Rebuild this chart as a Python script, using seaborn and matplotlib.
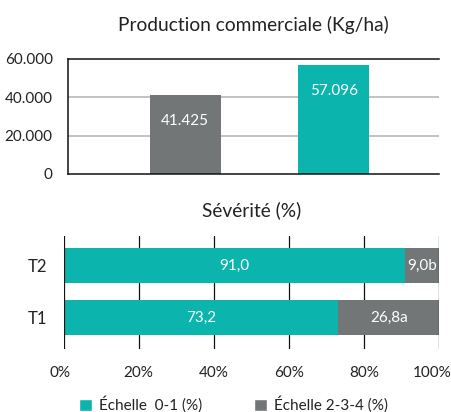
import matplotlib
matplotlib.use("Agg")
import matplotlib.pyplot as plt
import matplotlib.transforms as mtransforms
import seaborn as sns
import pandas as pd
from matplotlib.patches import Patch

# data
prod_labels = ["T1", "T2"]
prod_values = [41425, 57096]
prod_text = ["41.425", "57.096"]
prod_ticks = [0, 20000, 40000, 60000]
prod_ticklabels = ["0", "20.000", "40.000", "60.000"]

sev_treat = ["T2", "T1"]
sev_low = [91.0, 73.2]
sev_high = [9.0, 26.8]
sev_low_text = ["91,0", "73,2"]
sev_high_text = ["9,0b", "26,8a"]
sev_ticks = [0, 20, 40, 60, 80, 100]
sev_ticklabels = ["0%", "20%", "40%", "60%", "80%", "100%"]

teal = "#0bb5ae"
grey = "#737677"

sns.set_theme(style="white")
plt.rcParams["font.family"] = ["Lato", "DejaVu Sans"]
plt.rcParams["text.color"] = "#222222"
plt.rcParams["xtick.color"] = "#222222"
plt.rcParams["ytick.color"] = "#222222"

fig = plt.figure(figsize=(4.51, 4.12), dpi=100)

# top chart - production
ax1 = fig.add_axes([0.1508, 0.5777, 0.8226, 0.2791])
df1 = pd.DataFrame({"trat": prod_labels, "val": prod_values})
sns.barplot(data=df1, x="trat", y="val", hue="trat", palette=[grey, teal],
            width=0.48, legend=False, ax=ax1, saturation=1, linewidth=0)
ax1.set_ylim(0, 60000)
ax1.set_xlim(-0.79, 1.71)
ax1.set_yticks(prod_ticks)
ax1.set_yticklabels(prod_ticklabels, fontsize=11)
ax1.set_xticks([])
ax1.set_xlabel("")
ax1.set_ylabel("")
ax1.tick_params(axis="y", length=0, pad=11)
for y in [20000, 40000]:
    ax1.axhline(y, color="#bdbdbd", lw=1.3, zorder=0)
ax1.spines["right"].set_visible(False)
for s in ["top", "bottom", "left"]:
    ax1.spines[s].set_color("#111111")
    ax1.spines[s].set_linewidth(1.1)
for i, (v, t) in enumerate(zip(prod_values, prod_text)):
    ax1.annotate(t, (i, v), xytext=(0, -26), textcoords="offset pixels",
                 ha="center", va="center", color="white", fontsize=11)
ax1.set_title("Production commerciale (Kg/ha)", fontsize=13.8, pad=20)

# bottom chart - severity (grey total drawn first, teal part on top)
ax2 = fig.add_axes([0.1408, 0.1529, 0.8326, 0.2743])
df2 = pd.DataFrame({"trat": sev_treat, "low": sev_low,
                    "total": [a + b for a, b in zip(sev_low, sev_high)]})
sns.barplot(data=df2, y="trat", x="total", color=grey, width=0.67,
            orient="h", ax=ax2, saturation=1, zorder=2, linewidth=0)
sns.barplot(data=df2, y="trat", x="low", color=teal, width=0.67,
            orient="h", ax=ax2, saturation=1, zorder=2, linewidth=0)
ax2.set_xlim(0, 100)
ax2.set_ylim(1.606, -0.567)
ax2.set_xticks(sev_ticks)
ax2.set_xticklabels(sev_ticklabels, fontsize=11)
ax2.set_xlabel("")
ax2.set_ylabel("")
ax2.tick_params(axis="both", length=0)
ax2.tick_params(axis="x", pad=12)
ax2.tick_params(axis="y", pad=12, labelsize=12)
# keep the first and last labels inside the figure, as in the original
lbls = ax2.get_xticklabels()
lbls[0].set_transform(lbls[0].get_transform() +
                      mtransforms.ScaledTranslation(-0.04, 0, fig.dpi_scale_trans))
lbls[-1].set_transform(lbls[-1].get_transform() +
                       mtransforms.ScaledTranslation(-0.07, 0, fig.dpi_scale_trans))
for s in ax2.spines.values():
    s.set_visible(False)
for x in sev_ticks:
    ax2.axvline(x, color="#111111", lw=1.6 if x == 0 else 0.9,
                zorder=3 if x in (0, 100) else 1)
for i in range(len(sev_treat)):
    lo, hi = sev_low[i], sev_high[i]
    ax2.text(lo / 2, i, sev_low_text[i], ha="center", va="center",
             color="white", fontsize=11, zorder=4)
    ax2.text(lo + hi / 2, i, sev_high_text[i], ha="center", va="center",
             color="white", fontsize=11, zorder=4)
ax2.set_title("Sévérité (%)", fontsize=13.8, pad=14)

handles = [Patch(facecolor=teal, label="Échelle  0-1 (%)"),
           Patch(facecolor=grey, label="Échelle 2-3-4 (%)")]
fig.legend(handles=handles, loc="center", bbox_to_anchor=(0.518, 0.018), ncol=2,
           frameon=False, fontsize=11, handlelength=0.85, handleheight=0.85,
           columnspacing=3.4, handletextpad=0.45)

fig.savefig("out.png", dpi=100)
